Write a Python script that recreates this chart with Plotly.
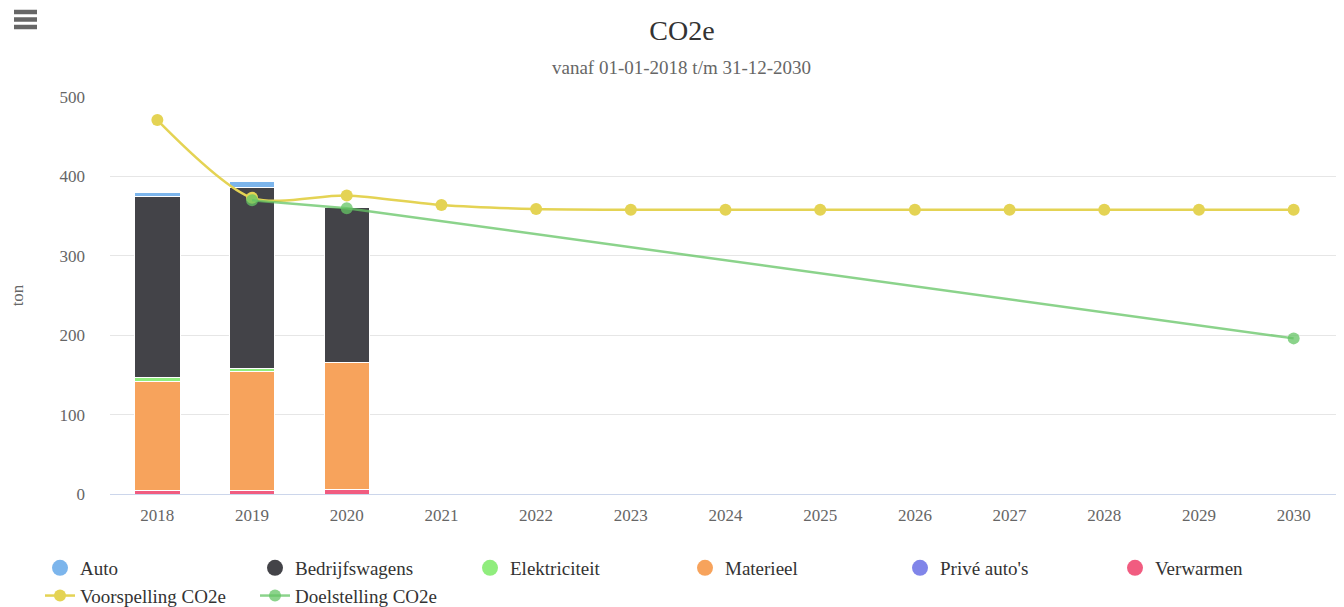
import plotly.graph_objects as go

years = [str(y) for y in range(2018, 2031)]
bar_years = ["2018", "2019", "2020"]

auto = [5, 7, 0]
bedrijfswagens = [228, 228, 195]
elektriciteit = [4.5, 4, 1]
materieel = [138, 150, 159]
prive_autos = [0, 0, 0]
verwarmen = [4, 4, 6]

voorspelling = [471, 373, 376, 364, 359, 358, 358, 358, 358, 358, 358, 358, 358]
doel_years = ["2019", "2020", "2030"]
doelstelling = [370, 360, 196]

C_AUTO = "#7cb5ec"
C_BEDR = "#434348"
C_ELEK = "#90ed7d"
C_MAT = "#f7a35c"
C_PRIVE = "#8085e9"
C_VERW = "#f15c80"
C_VOOR = "#e4d354"
C_DOEL = "rgba(100,196,100,0.75)"

FONT = "Liberation Serif"

fig = go.Figure()

bar_series = [
    ("Verwarmen", verwarmen, C_VERW),
    ("Privé auto's", prive_autos, C_PRIVE),
    ("Materieel", materieel, C_MAT),
    ("Elektriciteit", elektriciteit, C_ELEK),
    ("Bedrijfswagens", bedrijfswagens, C_BEDR),
    ("Auto", auto, C_AUTO),
]
for name, vals, col in bar_series:
    fig.add_trace(go.Bar(
        x=bar_years, y=vals, name=name, marker=dict(color=col, line=dict(color="white", width=1)),
        width=0.48, showlegend=False,
    ))

for name, col in [("Auto", C_AUTO), ("Bedrijfswagens", C_BEDR), ("Elektriciteit", C_ELEK),
                  ("Materieel", C_MAT), ("Privé auto's", C_PRIVE), ("Verwarmen", C_VERW)]:
    fig.add_trace(go.Scatter(x=[None], y=[None], mode="markers", name=name,
                             marker=dict(color=col, size=16, symbol="circle")))

fig.add_trace(go.Scatter(
    x=years, y=voorspelling, name="Voorspelling CO2e", mode="lines+markers",
    line=dict(color=C_VOOR, width=2.5, shape="spline", smoothing=0.8),
    marker=dict(color=C_VOOR, size=12),
))
fig.add_trace(go.Scatter(
    x=doel_years, y=doelstelling, name="Doelstelling CO2e", mode="lines+markers",
    line=dict(color=C_DOEL, width=2.5),
    marker=dict(color=C_DOEL, size=12),
))

OFF = 8  # page body margin
W, H = 1344 - OFF, 607 - OFF
L, R, T, B = 110 - OFF, 3, 97 - OFF, 113
pw, ph = W - L - R, H - T - B

def px2x(p):
    return (p - OFF - L) / pw

def py2y(p):
    return (H - B - (p - OFF)) / ph

shapes = []
for py in (12, 19.5, 27):
    shapes.append(dict(type="line", xref="paper", yref="paper",
                       x0=px2x(14), x1=px2x(37), y0=py2y(py), y1=py2y(py),
                       line=dict(color="#666666", width=4.5)))

fig.update_layout(
    width=W, height=H,
    margin=dict(l=L, r=R, t=T, b=B, autoexpand=False),
    barmode="stack",
    bargap=0.5,
    plot_bgcolor="white", paper_bgcolor="white",
    font=dict(family=FONT, color="#666666", size=17),
    title=dict(text="CO2e", x=(682 - OFF) / W, xref="container", xanchor="center",
               y=1 - (30 - OFF) / H, yanchor="middle",
               font=dict(family=FONT, size=28, color="#333333"), automargin=False),
    annotations=[dict(text="vanaf 01-01-2018 t/m 31-12-2030", xref="paper", yref="paper",
                      x=px2x(681), y=py2y(68), showarrow=False, xanchor="center", yanchor="middle",
                      font=dict(family=FONT, size=19, color="#666666"))],
    xaxis=dict(type="category", categoryorder="array", categoryarray=years,
               range=[-0.5, 12.5], showgrid=False, showline=True, linecolor="#ccd6eb",
               linewidth=1, ticks="", tickfont=dict(size=17, color="#666666"), ticklabelstandoff=6,
               automargin=False),
    yaxis=dict(range=[0, 500], dtick=100, showgrid=True, gridcolor="#e6e6e6", zeroline=False,
               showline=False, ticks="", tickfont=dict(size=17, color="#666666"),
               ticklabelstandoff=24, automargin=False,
               title=dict(text="ton", font=dict(size=17, color="#666666"), standoff=36)),
    legend=dict(orientation="h", x=px2x(40), xanchor="left", y=py2y(549), yanchor="top",
                entrywidth=170, entrywidthmode="pixels", font=dict(family=FONT, size=19, color="#333333"),
                traceorder="normal", itemsizing="trace", tracegroupgap=0),
    shapes=shapes,
    showlegend=True,
)

fig.write_html("out.html")
